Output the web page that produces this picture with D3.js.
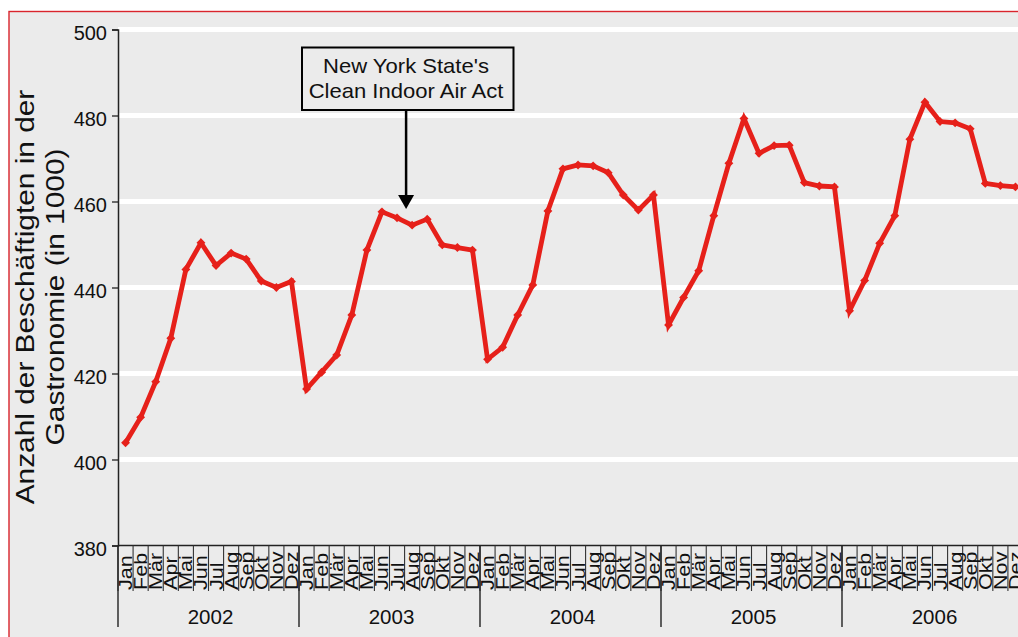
<!DOCTYPE html>
<html>
<head>
<meta charset="utf-8">
<script src="https://cdn.jsdelivr.net/npm/d3@7"></script>
<style>
  body { margin: 0; background: #ffffff; }
  svg { display: block; }
  text { font-family: "Liberation Sans", Arial, sans-serif; fill: #111; }
</style>
</head>
<body>
<div id="chart"></div>
<script>
const years = [2002, 2003, 2004, 2005, 2006];
const months = ['Jan', 'Feb', 'Mär', 'Apr', 'Mai', 'Jun', 'Jul', 'Aug', 'Sep', 'Okt', 'Nov', 'Dez'];
const values2002 = [403.9, 409.8, 418.1, 428.2, 444.2, 450.4, 445.1, 448.0, 446.6, 441.5, 440.0, 441.4];
const values2003 = [416.4, 420.3, 424.3, 433.6, 448.7, 457.6, 456.2, 454.5, 455.9, 449.9, 449.3, 448.7];
const values2004 = [423.3, 426.1, 433.6, 440.6, 457.8, 467.6, 468.5, 468.3, 466.7, 461.5, 458.0, 461.5];
const values2005 = [431.3, 437.7, 443.9, 456.7, 468.9, 479.3, 471.2, 473.0, 473.1, 464.4, 463.6, 463.4];
const values2006 = [434.6, 441.6, 450.3, 456.7, 474.5, 483.1, 478.6, 478.3, 476.9, 464.2, 463.7, 463.4];
const yTicks = [380, 400, 420, 440, 460, 480, 500];
const yTitle = ['Anzahl der Beschäftigten in der', 'Gastronomie (in 1000)'];
const noteLines = ["New York State's", 'Clean Indoor Air Act'];
// month position of the law (late July 2003), counted from Jan 2002
const notePos = 19.1;

const width = 1018;
const height = 637;
const plotLeft = 118;
const plotRight = 1023;
const plotTop = 29.5;
const plotBottom = 545.5;

const series = [values2002, values2003, values2004, values2005, values2006];
const data = [];
years.forEach((yr, yi) => {
  months.forEach((m, mi) => {
    data.push({ key: `${yr}-${mi}`, year: yr, month: m, value: series[yi][mi] });
  });
});

const x = d3.scaleBand()
  .domain(data.map(d => d.key))
  .range([plotLeft, plotRight])
  .padding(0);

const xYear = d3.scaleBand()
  .domain(years)
  .range([plotLeft, plotRight]);

const xPos = d3.scaleLinear()
  .domain([0, data.length])
  .range([plotLeft, plotRight]);

const y = d3.scaleLinear()
  .domain([380, 500])
  .range([plotBottom, plotTop]);

const svg = d3.select('#chart')
  .append('svg')
  .attr('width', width)
  .attr('height', height);

// panel
svg.append('rect')
  .attr('x', 9)
  .attr('y', 11.5)
  .attr('width', 1200)
  .attr('height', 800)
  .attr('fill', '#ebebeb')
  .attr('stroke', '#d9242c')
  .attr('stroke-width', 1.4);

// grid lines
svg.append('g')
  .selectAll('line')
  .data(yTicks.filter(t => t > 380))
  .enter()
  .append('line')
  .attr('x1', plotLeft)
  .attr('x2', width + 20)
  .attr('y1', d => y(d))
  .attr('y2', d => y(d))
  .attr('stroke', '#ffffff')
  .attr('stroke-width', 5);

// y axis
const yAxis = svg.append('g')
  .attr('transform', `translate(${plotLeft},0)`)
  .call(d3.axisLeft(y).tickValues(yTicks).tickSize(6).tickPadding(5));
yAxis.select('.domain').attr('stroke', '#222').attr('stroke-width', 1.5);
yAxis.selectAll('.tick line').attr('stroke', '#222').attr('stroke-width', 1.3);
yAxis.selectAll('.tick text')
  .attr('font-size', 20)
  .attr('font-family', '"Liberation Sans", Arial, sans-serif')
  .attr('fill', '#111')
  .attr('dy', '0.48em');

// x axis: baseline, month ticks, year separators
const xg = svg.append('g');
xg.append('line')
  .attr('x1', plotLeft)
  .attr('x2', width + 20)
  .attr('y1', plotBottom)
  .attr('y2', plotBottom)
  .attr('stroke', '#222')
  .attr('stroke-width', 1.5);

xg.selectAll('line.mtick')
  .data(d3.range(data.length + 1))
  .enter()
  .append('line')
  .attr('class', 'mtick')
  .attr('x1', d => xPos(d))
  .attr('x2', d => xPos(d))
  .attr('y1', plotBottom)
  .attr('y2', 591)
  .attr('stroke', '#333')
  .attr('stroke-width', 1.1);

xg.selectAll('line.ytick')
  .data(years)
  .enter()
  .append('line')
  .attr('class', 'ytick')
  .attr('x1', d => xYear(d))
  .attr('x2', d => xYear(d))
  .attr('y1', plotBottom)
  .attr('y2', 627)
  .attr('stroke', '#222')
  .attr('stroke-width', 1.4);

xg.selectAll('text.month')
  .data(data)
  .enter()
  .append('text')
  .attr('class', 'month')
  .attr('transform', d => `translate(${x(d.key) + x.bandwidth() / 2 + 6.5},590) rotate(-90) scale(1.17,1)`)
  .attr('font-size', 18.5)
  .attr('text-anchor', 'start')
  .text(d => d.month);

xg.selectAll('text.year')
  .data(years)
  .enter()
  .append('text')
  .attr('class', 'year')
  .attr('x', d => xYear(d) + xYear.bandwidth() / 2 + 2)
  .attr('y', 624)
  .attr('font-size', 20.5)
  .attr('text-anchor', 'middle')
  .text(d => d);

// y title
svg.append('g')
  .selectAll('text')
  .data(yTitle)
  .enter()
  .append('text')
  .attr('transform', (d, i) => `translate(${33.5 + i * 30},297) rotate(-90) scale(1.17,1)`)
  .attr('font-size', 25.5)
  .attr('text-anchor', 'middle')
  .text(d => d);

// series line
const line = d3.line()
  .x(d => x(d.key) + x.bandwidth() / 2)
  .y(d => y(d.value));

svg.append('path')
  .datum(data)
  .attr('d', line)
  .attr('fill', 'none')
  .attr('stroke', '#e6201a')
  .attr('stroke-width', 4.8)
  .attr('stroke-linejoin', 'miter');

svg.append('g')
  .selectAll('path')
  .data(data)
  .enter()
  .append('path')
  .attr('transform', d => `translate(${x(d.key) + x.bandwidth() / 2},${y(d.value)})`)
  .attr('d', d3.symbol().type(d3.symbolDiamond2).size(50))
  .attr('fill', '#e6201a');

// annotation
const noteX = xPos(notePos);
const note = svg.append('g');
note.append('line')
  .attr('x1', noteX)
  .attr('x2', noteX)
  .attr('y1', 110)
  .attr('y2', 196)
  .attr('stroke', '#000')
  .attr('stroke-width', 2.5);
note.append('path')
  .attr('d', `M${noteX - 8},195L${noteX + 8},195L${noteX},209Z`)
  .attr('fill', '#000');
note.append('rect')
  .attr('x', 302)
  .attr('y', 47.5)
  .attr('width', 211.5)
  .attr('height', 62.5)
  .attr('fill', '#ebebeb')
  .attr('stroke', '#000')
  .attr('stroke-width', 2);
note.selectAll('text')
  .data(noteLines)
  .enter()
  .append('text')
  .attr('transform', (d, i) => `translate(406,${73.3 + i * 25}) scale(1.05,1)`)
  .attr('font-size', 21)
  .attr('text-anchor', 'middle')
  .text(d => d);
</script>
</body>
</html>
